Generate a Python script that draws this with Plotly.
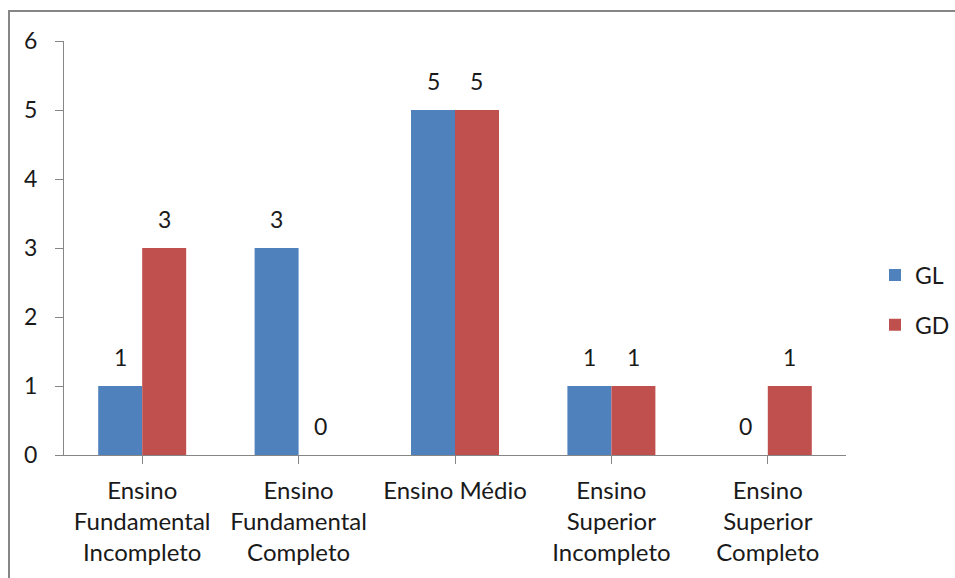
import plotly.graph_objects as go

# Education level categories and counts per group
categories = [
    "Ensino<br>Fundamental<br>Incompleto",
    "Ensino<br>Fundamental<br>Completo",
    "Ensino Médio",
    "Ensino<br>Superior<br>Incompleto",
    "Ensino<br>Superior<br>Completo",
]
gl_values = [1, 3, 5, 1, 0]
gd_values = [3, 0, 5, 1, 1]
y_ticks = [0, 1, 2, 3, 4, 5, 6]

BLUE = "#4F81BD"
RED = "#C0504D"
AXIS = "#868686"
TEXT = "#1a1a1a"
FONT = "Lato"
FS = 23

W, H = 955, 578
L, T, B = 64, 41, 123
PLOT_RIGHT = 846
pw = W - L            # paper width (no right margin)
ph = H - T - B
x_domain_end = (PLOT_RIGHT - L) / pw

BARGAP = 0.4375
half = (1 - BARGAP) / 2  # width of one bar in category units

idx = list(range(len(categories)))

fig = go.Figure()
fig.add_trace(go.Bar(name="GL", x=idx, y=gl_values, legendgroup="gl",
                     marker=dict(color=BLUE, line=dict(width=0))))
fig.add_trace(go.Bar(name="GD", x=idx, y=gd_values, legendgroup="gd",
                     marker=dict(color=RED, line=dict(width=0))))

# value labels above each bar
annotations = []
for vals, off in ((gl_values, -half / 2), (gd_values, half / 2)):
    for i, v in zip(idx, vals):
        annotations.append(dict(
            x=i + off, y=v, xref="x", yref="y", text=str(v), showarrow=False,
            yshift=29, font=dict(family=FONT, size=FS, color=TEXT),
        ))

# outer chart border (top and left edges visible)
bx0 = (9 - L) / pw
by1 = (H - B - 11) / ph
shapes = [dict(
    type="rect", xref="paper", yref="paper",
    x0=bx0, x1=2.0, y0=-2.0, y1=by1,
    line=dict(color=AXIS, width=2), fillcolor="rgba(0,0,0,0)", layer="below",
)]

fig.update_layout(
    width=W, height=H,
    margin=dict(l=L, r=0, t=T, b=B, pad=0),
    paper_bgcolor="white", plot_bgcolor="white",
    barmode="group", bargap=BARGAP, bargroupgap=0,
    font=dict(family=FONT, size=FS, color=TEXT),
    xaxis=dict(
        domain=[0, x_domain_end],
        tickmode="array", tickvals=idx, ticktext=categories,
        range=[-0.5, len(categories) - 0.5],
        showline=True, linecolor=AXIS, linewidth=1,
        ticks="outside", tickson="boundaries", ticklen=8, tickcolor=AXIS,
        showgrid=False, zeroline=False,
        tickfont=dict(family=FONT, size=24, color=TEXT),
        ticklabelstandoff=6,
    ),
    yaxis=dict(
        range=[0, 6], tickvals=y_ticks,
        showline=True, linecolor=AXIS, linewidth=1,
        ticks="outside", ticklen=8, tickcolor=AXIS,
        showgrid=False, zeroline=False,
        tickfont=dict(family=FONT, size=FS, color=TEXT),
        ticklabelstandoff=13,
    ),
    legend=dict(
        x=1.0, y=(H - B - 300) / ph, xanchor="right", yanchor="middle",
        font=dict(family=FONT, size=FS, color=TEXT),
        itemwidth=30, tracegroupgap=17, bgcolor="rgba(0,0,0,0)",
        traceorder="grouped",
    ),
    annotations=annotations,
    shapes=shapes,
)

fig.write_html("out.html")
